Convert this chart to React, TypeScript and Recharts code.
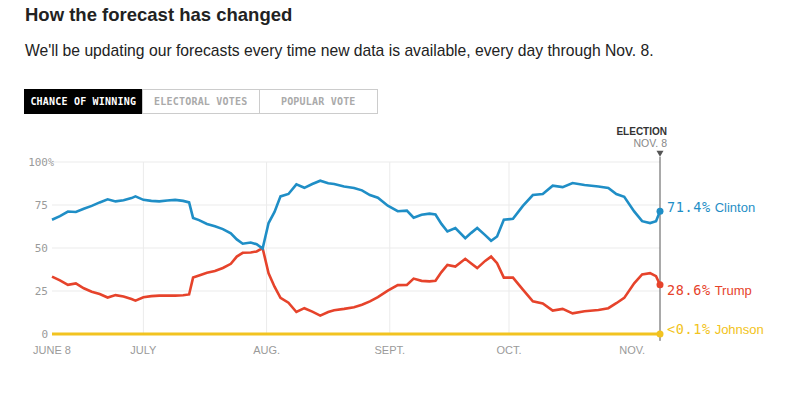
import React from 'react';
import { LineChart, Line, XAxis, YAxis, ReferenceLine } from 'recharts';

// days since June 8, 2016 (Nov 8 = 153)
const days = [
  0, 2, 4, 6, 8, 10, 12, 14, 16, 18, 20, 21, 23, 25, 27, 29, 31, 33, 34.5, 35.5,
  37, 39, 41, 43, 45, 46.5, 48, 50, 51.5, 53, 54.5, 56, 57.5, 59.5, 61.5, 63.5, 65.5, 67.5, 69.5, 71,
  73.5, 76, 78, 80, 82, 84.5, 87, 89.3, 91, 93, 95, 96.5, 98, 99.5, 101.5, 104, 105.5, 107, 109, 110.5,
  112, 113.7, 116, 118.5, 121, 123.5, 126, 128.5, 131, 134, 137.5, 140, 142, 144, 146.5, 148.5, 150.5, 152, 153,
];

const clinton = [
  66.4, 68.5, 71.2, 70.9, 72.8, 74.5, 76.5, 78.3, 77.1, 77.8, 79.0, 80.0, 78.0, 77.4, 77.1, 77.6, 78.0, 77.4, 76.5, 67.5,
  66.2, 64.0, 62.6, 61.0, 58.5, 55.0, 52.5, 53.2, 52.2, 49.7, 64.5, 71.0, 80.0, 81.4, 87.0, 85.0, 87.2, 89.1, 87.6, 87.2,
  85.8, 84.9, 83.5, 80.8, 79.2, 74.6, 71.4, 71.7, 67.6, 69.3, 70.0, 69.5, 64.0, 59.6, 61.6, 55.7, 58.8, 61.6, 57.5, 54.2,
  56.7, 66.4, 67.0, 74.5, 80.8, 81.4, 86.2, 85.4, 87.8, 86.6, 85.8, 84.9, 81.4, 79.8, 71.3, 65.6, 64.5, 65.6, 71.4,
];

const trump = [
  33.4, 31.2, 28.6, 29.4, 26.6, 24.6, 23.2, 21.2, 22.6, 21.8, 20.3, 19.4, 21.4, 22.0, 22.3, 22.3, 22.3, 22.5, 23.0, 32.8,
  34.0, 35.6, 36.6, 38.4, 40.8, 45.0, 47.2, 47.4, 48.0, 49.9, 35.3, 27.5, 21.0, 18.2, 12.8, 15.0, 13.0, 10.7, 12.8, 13.8,
  14.6, 15.6, 17.0, 19.0, 21.4, 25.2, 28.4, 28.5, 32.2, 30.9, 30.6, 31.0, 36.0, 40.2, 39.2, 43.7, 41.0, 38.3, 42.5, 45.0,
  41.2, 32.8, 32.8, 25.8, 19.0, 17.8, 13.6, 14.6, 12.0, 13.2, 14.0, 15.0, 17.9, 21.0, 29.5, 34.6, 35.4, 33.6, 28.6,
];

const johnsonDays = [0, 153];
const johnson = [0, 0];

const monthTicks = [0, 23, 54, 85, 115, 146];
const monthLabels = ['JUNE 8', 'JULY', 'AUG.', 'SEPT.', 'OCT.', 'NOV.'];
const gridMonths = [23, 54, 85, 115];
const yTicks = [0, 25, 50, 75, 100];

const endLabels = {
  clinton: { value: '71.4%', name: 'Clinton', color: '#1f8ec6', dy: -4 },
  trump: { value: '28.6%', name: 'Trump', color: '#e6432b', dy: 5 },
  johnson: { value: '<0.1%', name: 'Johnson', color: '#f2c320', dy: -5 },
};

const rows = days.map((d, i) => ({ day: d, clinton: clinton[i], trump: trump[i] }));
const johnsonRows = johnsonDays.map((d, i) => ({ day: d, johnson: johnson[i] }));

const MONO = '"DejaVu Sans Mono", "Liberation Mono", monospace';
const SANS = '"Liberation Sans", Arial, sans-serif';

const endDot = (key: keyof typeof endLabels, last: number) => (props: any) => {
  const { cx, cy, index } = props;
  if (index !== last) return <g key={`${key}-${index}`} />;
  const l = endLabels[key];
  return (
    <g key={`${key}-${index}`}>
      <circle cx={cx} cy={cy} r={3.5} fill={l.color} />
      <text x={cx + 7} y={cy + l.dy} dominantBaseline="central" fill={l.color} fontSize={13}>
        <tspan fontFamily={MONO} fontSize={13.5} letterSpacing={0.6}>{l.value}</tspan>
        <tspan fontFamily={SANS} dx={4}>{l.name}</tspan>
      </text>
    </g>
  );
};

const XTick = ({ x, y, payload }: any) => {
  const i = monthTicks.indexOf(payload.value);
  return (
    <text x={x} y={y} dy={12} textAnchor="middle" fill="#9a9a9a" fontSize={11} fontFamily={SANS}>
      {monthLabels[i]}
    </text>
  );
};

const YTick = ({ x, y, payload }: any) => (
  <g>
    <text x={x} y={y} textAnchor="end" dominantBaseline="central" fill="#9a9a9a" fontSize={11} fontFamily={MONO}>
      {payload.value}
    </text>
    {payload.value === 100 && (
      <text x={x} y={y} dominantBaseline="central" fill="#9a9a9a" fontSize={10} fontFamily={MONO}>%</text>
    )}
  </g>
);

const ElectionLabel = ({ viewBox }: any) => {
  const { x, y } = viewBox;
  return (
    <g>
      <text x={x + 7} y={y - 22} textAnchor="end" fill="#333" fontSize={10} fontWeight="bold" fontFamily={SANS}>ELECTION</text>
      <text x={x + 7} y={y - 10} textAnchor="end" fill="#888" fontSize={10.5} fontFamily={SANS}>NOV. 8</text>
      <path d={`M${x - 3.5},${y - 6} L${x + 3.5},${y - 6} L${x},${y} Z`} fill="#555" />
    </g>
  );
};

const tabStyle = (active: boolean): React.CSSProperties => ({
  width: 118.5,
  height: 25,
  boxSizing: 'border-box',
  display: 'flex',
  alignItems: 'center',
  justifyContent: 'center',
  fontFamily: MONO,
  fontWeight: 'bold',
  fontSize: 10,
  letterSpacing: 0.2,
  background: active ? '#000' : '#fff',
  color: active ? '#fff' : '#aaa',
  border: active ? '1px solid #000' : '1px solid #ccc',
  marginLeft: active ? 0 : -1,
});

export default function App() {
  return (
    <div style={{ position: 'absolute', left: 0, top: 0, width: 800, height: 415, background: '#fff' }}>
      <div style={{ position: 'absolute', left: 25, top: 4, fontFamily: SANS, fontWeight: 'bold', fontSize: 18.5, color: '#222' }}>
        How the forecast has changed
      </div>
      <div style={{ position: 'absolute', left: 25, top: 42, fontFamily: SANS, fontSize: 15.7, color: '#222' }}>
        We'll be updating our forecasts every time new data is available, every day through Nov. 8.
      </div>
      <div style={{ position: 'absolute', left: 24, top: 89, display: 'flex' }}>
        <div style={tabStyle(true)}>CHANCE OF WINNING</div>
        <div style={tabStyle(false)}>ELECTORAL VOTES</div>
        <div style={tabStyle(false)}>POPULAR VOTE</div>
      </div>
      <div style={{ position: 'absolute', left: 0, top: 0 }}>
        <LineChart width={800} height={415} data={rows} margin={{ top: 162, right: 140, left: 12, bottom: 51 }}>
          <XAxis
            type="number"
            dataKey="day"
            domain={[0, 153]}
            ticks={monthTicks}
            tick={<XTick />}
            axisLine={false}
            tickLine={false}
            tickSize={0}
            tickMargin={8}
            height={30}
          />
          <YAxis
            domain={[0, 100]}
            ticks={yTicks}
            tick={<YTick />}
            axisLine={false}
            tickLine={false}
            tickSize={0}
            tickMargin={4}
            width={40}
          />
          {yTicks.filter((v) => v > 0).map((v) => (
            <ReferenceLine key={`h${v}`} y={v} stroke="#ebebeb" strokeWidth={1} />
          ))}
          {gridMonths.map((m) => (
            <ReferenceLine key={`v${m}`} x={m} stroke="#ebebeb" strokeWidth={1} />
          ))}
          <ReferenceLine
            segment={[{ x: 153, y: 103 }, { x: 153, y: -4 }]}
            stroke="#555"
            strokeWidth={1}
            ifOverflow="visible"
            label={<ElectionLabel />}
          />
          <Line
            data={johnsonRows}
            dataKey="johnson"
            type="linear"
            stroke={endLabels.johnson.color}
            strokeWidth={2.8}
            dot={endDot('johnson', johnsonRows.length - 1)}
            activeDot={false}
            isAnimationActive={false}
          />
          <Line
            dataKey="trump"
            type="linear"
            stroke={endLabels.trump.color}
            strokeWidth={2.6}
            dot={endDot('trump', rows.length - 1)}
            activeDot={false}
            isAnimationActive={false}
          />
          <Line
            dataKey="clinton"
            type="linear"
            stroke={endLabels.clinton.color}
            strokeWidth={2.6}
            dot={endDot('clinton', rows.length - 1)}
            activeDot={false}
            isAnimationActive={false}
          />
        </LineChart>
      </div>
    </div>
  );
}
